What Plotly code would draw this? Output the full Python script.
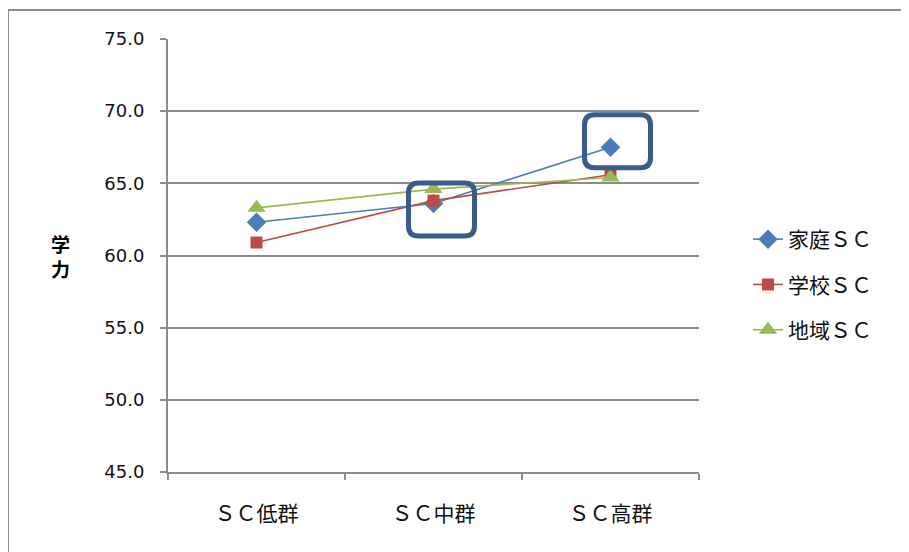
import plotly.graph_objects as go

categories = ["ＳＣ低群", "ＳＣ中群", "ＳＣ高群"]
katei_sc = [62.3, 63.6, 67.5]
gakko_sc = [60.9, 63.8, 65.6]
chiiki_sc = [63.3, 64.6, 65.4]
series_names = ["家庭ＳＣ", "学校ＳＣ", "地域ＳＣ"]
y_ticks = [45, 50, 55, 60, 65, 70, 75]

# page has an 8px body margin, so the figure is drawn 8px in from the corner
OFF = 8
W, H = 909 - OFF, 552 - OFF
L, R, T, B = 168 - OFF, 210, 39 - OFF, 80
pw, ph = W - L - R, H - T - B

colors = ["#4A7EBB", "#BE4B48", "#98B954"]
symbols = ["diamond", "square", "triangle-up"]
sizes = [15, 12, 16]
series = [katei_sc, gakko_sc, chiiki_sc]

fig = go.Figure()
for i, (name, vals) in enumerate(zip(series_names, series)):
    fig.add_trace(go.Scatter(
        x=categories, y=vals, name=name, mode="lines+markers",
        line=dict(color=colors[i], width=1.6),
        marker=dict(symbol=symbols[i], size=sizes[i], color=colors[i]),
        legendgroup=name,
    ))

def rrect(w, h, dx, dy, r):
    x0, x1 = dx - w / 2, dx + w / 2
    y0, y1 = dy - h / 2, dy + h / 2
    return (f"M {x0+r},{y0} L {x1-r},{y0} Q {x1},{y0} {x1},{y0+r} "
            f"L {x1},{y1-r} Q {x1},{y1} {x1-r},{y1} L {x0+r},{y1} "
            f"Q {x0},{y1} {x0},{y1-r} L {x0},{y0+r} Q {x0},{y0} {x0+r},{y0} Z")

shapes = []
# highlight boxes around the 家庭ＳＣ points of middle and high groups
for idx, dx, dy in [(1, 8, -6), (2, 7, 6)]:
    shapes.append(dict(
        type="path", xref="x", yref="y",
        xsizemode="pixel", ysizemode="pixel",
        xanchor=categories[idx], yanchor=katei_sc[idx],
        path=rrect(66, 53, dx, dy, 10),
        line=dict(color="#385D8A", width=5),
    ))

# outer chart border (left and top visible)
bx = (8 - OFF - L) / pw
by = (H - B - (10 - OFF)) / ph
shapes.append(dict(type="line", xref="paper", yref="paper",
                   x0=bx, x1=bx, y0=by, y1=-0.5,
                   line=dict(color="#8C8C8C", width=2)))
shapes.append(dict(type="line", xref="paper", yref="paper",
                   x0=bx, x1=(W + 5 - L) / pw, y0=by, y1=by,
                   line=dict(color="#8C8C8C", width=2)))

fig.update_layout(
    width=W, height=H,
    margin=dict(l=L, r=R, t=T, b=B),
    paper_bgcolor="white", plot_bgcolor="white",
    font=dict(family="DejaVu Sans, Noto Sans CJK JP", color="#111111", size=15),
    shapes=shapes,
    showlegend=True,
    legend=dict(
        x=(748 - OFF - L) / pw, xanchor="left",
        y=(H - B - (219 - OFF)) / ph, yanchor="top",
        font=dict(family="Noto Sans CJK JP", size=21, color="#111111"),
        tracegroupgap=15, traceorder="grouped",
        bgcolor="rgba(0,0,0,0)",
    ),
    annotations=[dict(
        text="<b>学<br>力</b>", xref="paper", yref="paper",
        x=(60 - OFF - L) / pw, y=(H - B - (256 - OFF)) / ph,
        xanchor="center", yanchor="middle", showarrow=False,
        font=dict(family="Noto Sans CJK JP", size=19, color="#000000"),
    )],
)

fig.update_xaxes(
    type="category", range=[-0.5, 2.5],
    showline=True, linecolor="#8C8C8C", linewidth=2,
    ticks="outside", tickson="boundaries", ticklen=6, tickcolor="#8C8C8C", tickwidth=1.5,
    showgrid=False,
    tickfont=dict(family="Noto Sans CJK JP", size=21, color="#111111"),
    ticklabelstandoff=22,
)
fig.update_yaxes(
    range=[45, 75], tickvals=y_ticks, tickformat=".1f",
    showline=True, linecolor="#8C8C8C", linewidth=2,
    ticks="outside", ticklen=6, tickcolor="#8C8C8C", tickwidth=1.5,
    showgrid=True, gridcolor="#8C8C8C", gridwidth=1.5,
    zeroline=False,
    tickfont=dict(family="DejaVu Sans", size=18, color="#111111"),
    ticklabelstandoff=12,
)

fig.write_html("out.html")
